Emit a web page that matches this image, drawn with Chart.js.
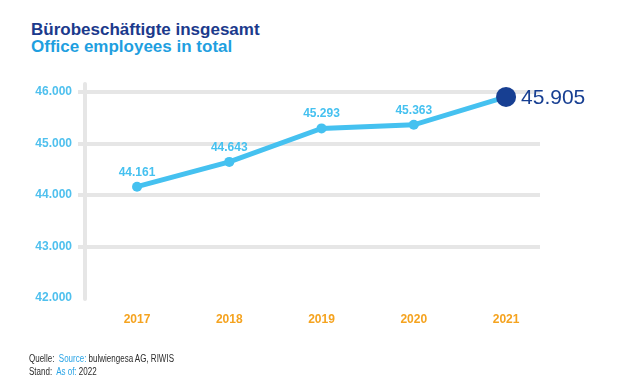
<!DOCTYPE html>
<html>
<head>
<meta charset="utf-8">
<script src="https://cdn.jsdelivr.net/npm/chart.js@4.4.0/dist/chart.umd.min.js"></script>
<style>
  html, body { margin: 0; padding: 0; background: #fff; }
  body { width: 636px; height: 381px; position: relative; overflow: hidden; font-family: "Liberation Sans", Arial, sans-serif; }
  #title1, #title2 { position: absolute; left: 31px; font-weight: bold; font-size: 17px; white-space: nowrap; }
  #title1 { top: 20px; color: #1b3a8c; }
  #title2 { top: 37px; color: #1f9fe0; }
  #wrap { position: absolute; left: 0; top: 0; width: 636px; height: 381px; }
  .foot { position: absolute; left: 29px; font-size: 10px; color: #2a2a2a; white-space: nowrap; transform: scaleX(0.8); transform-origin: left top; }
  .foot span { color: #2aa4e6; }
</style>
</head>
<body>
<div id="title1">Bürobeschäftigte insgesamt</div>
<div id="title2">Office employees in total</div>
<div id="wrap"><canvas id="chart"></canvas></div>
<div class="foot" style="top:353px">Quelle:&nbsp; <span>Source:</span> bulwiengesa AG, RIWIS</div>
<div class="foot" style="top:366px">Stand:&nbsp; <span>As of:</span> 2022</div>
<script>
// Werte aus der Grafik
const years = [2017, 2018, 2019, 2020, 2021];
const employees = [44161, 44643, 45293, 45363, 45905];
const yTicks = [42000, 43000, 44000, 45000, 46000];

const lightBlue = '#45c1f0';
const darkBlue = '#173f92';

function fmt(v) {
    return String(Math.round(v)).replace(/\B(?=(\d{3})+(?!\d))/g, '.');
}

// Wertbeschriftungen über den Punkten
const valueLabels = {
    id: 'valueLabels',
    afterDatasetsDraw(chart) {
        const ctx = chart.ctx;
        const meta = chart.getDatasetMeta(0);
        const last = meta.data.length - 1;
        ctx.save();
        meta.data.forEach((pt, i) => {
            if (i === last) {
                ctx.font = '21px "Liberation Sans", Arial, sans-serif';
                ctx.fillStyle = darkBlue;
                ctx.textAlign = 'left';
                ctx.textBaseline = 'middle';
                ctx.fillText(fmt(employees[i]), pt.x + 15, pt.y + 1);
            } else {
                ctx.font = 'bold 12px "Liberation Sans", Arial, sans-serif';
                ctx.fillStyle = lightBlue;
                ctx.textAlign = 'center';
                ctx.textBaseline = 'alphabetic';
                ctx.fillText(fmt(employees[i]), pt.x, pt.y - 11);
            }
        });
        ctx.restore();
    }
};

// senkrechte Achsenlinie, etwas länger als der Diagrammbereich
const axisLine = {
    id: 'axisLine',
    beforeDatasetsDraw(chart) {
        const a = chart.chartArea;
        const ctx = chart.ctx;
        ctx.save();
        ctx.strokeStyle = '#e6e6e6';
        ctx.lineWidth = 4;
        ctx.lineCap = 'round';
        ctx.beginPath();
        ctx.moveTo(a.left, a.top - 8);
        ctx.lineTo(a.left, a.bottom + 1);
        ctx.stroke();
        ctx.restore();
    }
};

new Chart(document.getElementById('chart'), {
    type: 'line',
    data: {
        datasets: [{
            data: years.map((y, i) => ({ x: y, y: employees[i] })),
            borderColor: lightBlue,
            borderWidth: 5,
            pointRadius: [5, 5, 5, 5, 10],
            pointHoverRadius: [5, 5, 5, 5, 10],
            pointBackgroundColor: [lightBlue, lightBlue, lightBlue, lightBlue, darkBlue],
            pointBorderWidth: 0,
            tension: 0,
            clip: false
        }]
    },
    options: {
        responsive: true,
        maintainAspectRatio: false,
        animation: false,
        events: [],
        layout: { padding: { top: 92, right: 96, bottom: 0, left: 0 } },
        plugins: { legend: { display: false }, tooltip: { enabled: false } },
        scales: {
            x: {
                type: 'linear',
                min: 2016.436,
                max: 2021.368,
                afterBuildTicks: s => { s.ticks = years.map(v => ({ value: v })); },
                afterFit: s => { s.height = 83; },
                grid: { display: false, drawTicks: false },
                border: { display: false },
                ticks: {
                    padding: 14,
                    color: '#f5a31f',
                    font: { family: '"Liberation Sans", Arial, sans-serif', size: 12, weight: 'bold' },
                    callback: v => String(v)
                }
            },
            y: {
                min: 42000,
                max: 46000,
                afterBuildTicks: s => { s.ticks = yTicks.map(v => ({ value: v })); },
                afterFit: s => { s.width = 85; },
                border: { display: false },
                grid: {
                    color: c => c.tick && c.tick.value === 42000 ? 'rgba(0,0,0,0)' : '#e6e6e6',
                    lineWidth: 4,
                    tickLength: 7
                },
                ticks: {
                    padding: 6,
                    color: '#4fc0ee',
                    font: { family: '"Liberation Sans", Arial, sans-serif', size: 12, weight: 'bold' },
                    callback: v => fmt(v)
                }
            }
        }
    },
    plugins: [axisLine, valueLabels]
});
</script>
</body>
</html>
